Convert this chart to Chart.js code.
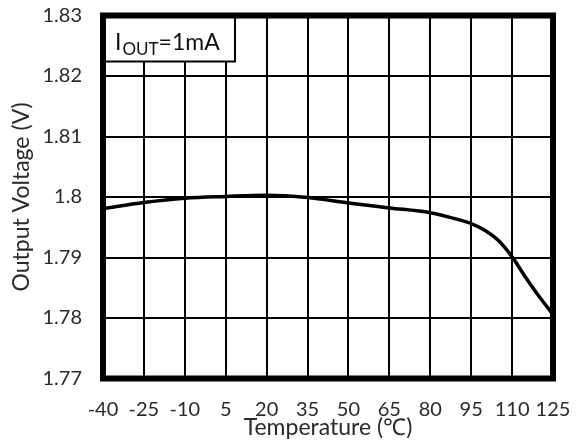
<!DOCTYPE html>
<html>
<head>
<meta charset="utf-8">
<script src="https://cdn.jsdelivr.net/npm/chart.js@4/dist/chart.umd.min.js"></script>
<style>
  html, body { margin: 0; padding: 0; background: #fff; }
  #wrap { width: 580px; height: 441px; position: relative; }
</style>
</head>
<body>
<div id="wrap"><canvas id="graficoVout"></canvas></div>
<script>
// temperatura (°C) e tensão de saída (V), IOUT = 1mA
const temps = [-40, -25, -10, 5, 20, 35, 50, 65, 80, 90, 95, 100, 105, 110, 115, 120, 125];
const vout = [1.7981, 1.7991, 1.7998, 1.8001, 1.8003, 1.7999, 1.7990, 1.7982, 1.7974, 1.7963, 1.7956,
  1.7945, 1.7928, 1.7901, 1.7867, 1.7835, 1.7806];
const xTicks = [-40, -25, -10, 5, 20, 35, 50, 65, 80, 95, 110, 125];
const yTicks = [1.77, 1.78, 1.79, 1.80, 1.81, 1.82, 1.83];

const FONT = "Lato, 'Open Sans', sans-serif";
const TXT = "#2a2a2a";

// moldura grossa + caixa com a condição de teste
const molduraPlugin = {
  id: "moldura",
  afterDraw(chart) {
    const { ctx, chartArea: a } = chart;
    ctx.save();
    // caixa "IOUT=1mA"
    const bx = a.left, by = a.top, bw = 132, bh = 46;
    ctx.fillStyle = "#fff";
    ctx.fillRect(bx, by, bw, bh);
    ctx.strokeStyle = "#000";
    ctx.lineWidth = 2;
    ctx.strokeRect(bx, by, bw, bh);
    ctx.fillStyle = "#111";
    ctx.textBaseline = "alphabetic";
    let x = bx + 12;
    const base = by + 34;
    ctx.font = "23px " + FONT;
    ctx.fillText("I", x, base);
    x += ctx.measureText("I").width + 1;
    ctx.font = "17px " + FONT;
    ctx.fillText("OUT", x, base + 5);
    x += ctx.measureText("OUT").width;
    ctx.font = "23px " + FONT;
    ctx.fillText("=1mA", x, base);
    // borda externa
    ctx.lineWidth = 6;
    ctx.strokeRect(a.left, a.top, a.right - a.left, a.bottom - a.top);
    ctx.restore();
  },
};

new Chart(document.getElementById("graficoVout"), {
  type: "line",
  data: {
    datasets: [
      {
        label: "Vout",
        data: temps.map((t, i) => ({ x: t, y: vout[i] })),
        borderColor: "#000",
        borderWidth: 3.5,
        pointRadius: 0,
        fill: false,
        cubicInterpolationMode: "monotone",
      },
    ],
  },
  options: {
    responsive: true,
    maintainAspectRatio: false,
    animation: false,
    events: [],
    layout: { padding: { top: 15.5, right: 27, bottom: 0, left: 0 } },
    plugins: { legend: { display: false }, tooltip: { enabled: false } },
    scales: {
      x: {
        type: "linear",
        min: -40,
        max: 125,
        afterBuildTicks: (s) => { s.ticks = xTicks.map((v) => ({ value: v })); },
        afterFit: (s) => { s.height = 62.5; s.paddingLeft = 0; s.paddingRight = 0; },
        grid: { color: "#000", lineWidth: 2, drawTicks: false },
        border: { display: false },
        ticks: { color: TXT, font: { family: FONT, size: 20 }, padding: 19, maxRotation: 0, autoSkip: false },
        title: {
          display: true,
          text: "Temperature (℃)",
          color: TXT,
          font: { family: FONT, size: 23 },
          padding: { top: 0, bottom: 0 },
        },
      },
      y: {
        min: 1.77,
        max: 1.83,
        afterBuildTicks: (s) => { s.ticks = yTicks.map((v) => ({ value: v })); },
        afterFit: (s) => { s.width = 103; s.paddingTop = 0; s.paddingBottom = 0; },
        grid: { color: "#000", lineWidth: 2, drawTicks: false },
        border: { display: false },
        ticks: {
          color: TXT,
          font: { family: FONT, size: 20 },
          padding: 21,
          callback: (v) => String(parseFloat(v.toFixed(2))),
        },
        title: {
          display: true,
          text: "Output Voltage (V)",
          color: TXT,
          font: { family: FONT, size: 23 },
          padding: { top: 8, bottom: 0 },
        },
      },
    },
  },
  plugins: [molduraPlugin],
});
</script>
</body>
</html>
